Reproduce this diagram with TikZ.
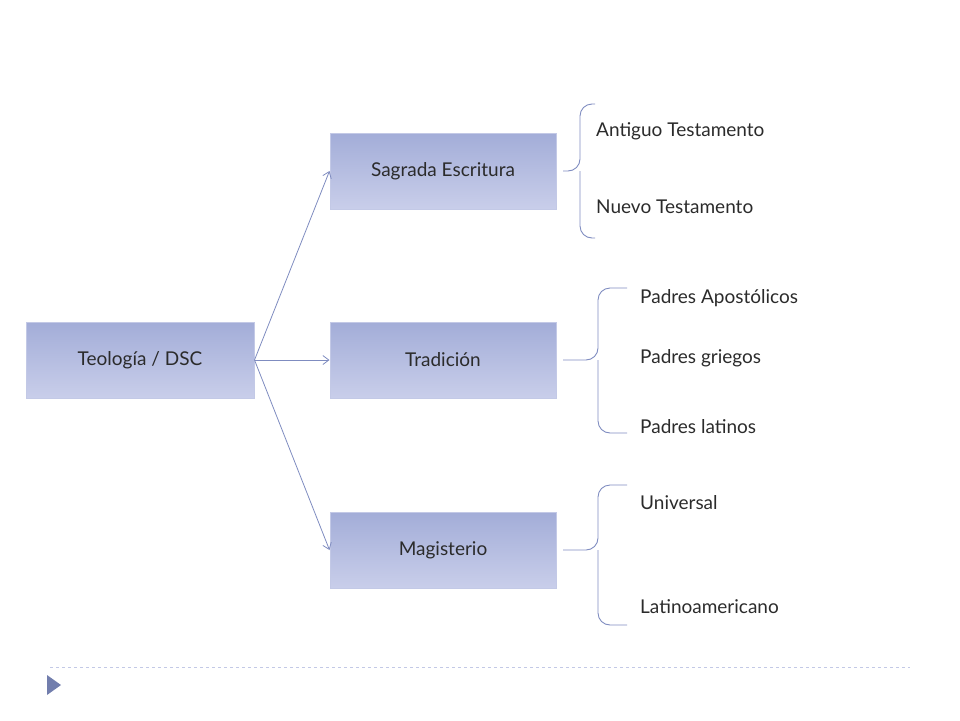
\documentclass[tikz,border=0pt]{standalone}
\usepackage{fontspec}
\setmainfont{Lato}
\usetikzlibrary{positioning,arrows.meta}
\definecolor{boxtop}{HTML}{A3ADD8}
\definecolor{boxbot}{HTML}{C9CEEA}
\definecolor{boxline}{HTML}{C3C9E6}
\definecolor{linkcol}{HTML}{7F8CC0}
\definecolor{txt}{HTML}{2B2B2B}
\tikzset{
  box/.style={draw=boxline,line width=1pt,top color=boxtop,bottom color=boxbot,
    minimum width=226pt,minimum height=76pt,text=txt,font=\fontsize{19}{22}\selectfont},
  leaf/.style={anchor=west,text=txt,inner sep=0pt,font=\fontsize{19}{22}\selectfont},
  link/.style={draw=linkcol,line width=0.8pt,-{Straight Barb[length=6pt,width=9pt]}},
  brace/.style={draw=linkcol,line width=0.9pt,rounded corners=12pt}
}
\begin{document}
\begin{tikzpicture}[x=1pt,y=-1pt]
\useasboundingbox (0,0) rectangle (960,720);
\node [box,minimum width=228pt] (teo) at (140,360) {Teología / DSC};
\node [box] (sag) at (443,171) {Sagrada Escritura};
\node [box] (tra) at (443,360) {Tradición};
\node [box] (mag) at (443,550) {Magisterio};

\draw [link] (teo.east) -- (sag.west);
\draw [link] (teo.east) -- (tra.west);
\draw [link] (teo.east) -- (mag.west);

% braces
\draw [brace] (595,104) -- (580,104) -- (580,171) -- (563,171);
\draw [brace] (595,238) -- (580,238) -- (580,171);
\draw [brace] (627,288) -- (598,288) -- (598,360) -- (563,360);
\draw [brace] (627,433) -- (598,433) -- (598,360);
\draw [brace] (627,485) -- (598,485) -- (598,550) -- (563,550);
\draw [brace] (627,625) -- (598,625) -- (598,550);

\node [leaf] (at) at (596,131) {Antiguo Testamento};
\node [leaf] (nt) at (596,207) {Nuevo Testamento};
\node [leaf] (pa) at (640,298) {Padres Apostólicos};
\node [leaf] (pg) at (640,358) {Padres griegos};
\node [leaf] (pl) at (640,427) {Padres latinos};
\node [leaf] (un) at (640,503) {Universal};
\node [leaf] (la) at (640,607) {Latinoamericano};

% footer
\draw [draw=boxline,line width=1pt,dashed] (50,667) -- (910,667);
\fill [linkcol!90!black] (47,675) -- (61,685) -- (47,695) -- cycle;
\end{tikzpicture}
\end{document}
